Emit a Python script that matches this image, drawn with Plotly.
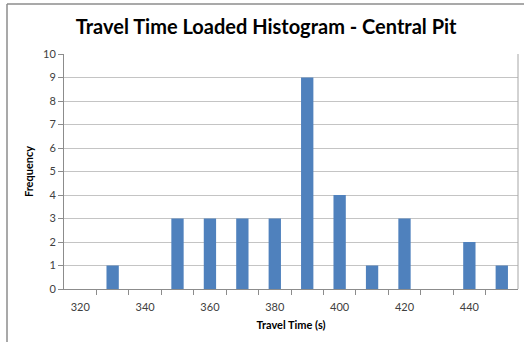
import plotly.graph_objects as go

# Histogram bins (travel time, seconds) and counts per bin
travel_time = [320, 330, 340, 350, 360, 370, 380, 390, 400, 410, 420, 430, 440, 450]
frequency = [0, 1, 0, 3, 3, 3, 3, 9, 4, 1, 3, 0, 2, 1]
x_labels = [320, 340, 360, 380, 400, 420, 440]
y_ticks = list(range(0, 11))

W, H = 524, 342
L, R, T, B = 64, 6, 54, 53
pw, ph = W - L - R, H - T - B


def px_x(p):
    return (p - L) / pw


def px_y(p):
    return (H - B - p) / ph


fig = go.Figure(
    go.Bar(
        x=travel_time,
        y=frequency,
        width=3.8,
        marker=dict(color="#4f81bd", line=dict(width=0)),
    )
)

font = "Lato, 'Open Sans', sans-serif"

fig.update_layout(
    width=W,
    height=H,
    margin=dict(l=L, r=R, t=T, b=B),
    paper_bgcolor="white",
    plot_bgcolor="white",
    showlegend=False,
    title=dict(
        text="<b>Travel Time Loaded Histogram - Central Pit</b>",
        x=0.508,
        xanchor="center",
        y=1 - 27 / H,
        yanchor="middle",
        font=dict(family=font, size=20, color="#000000"),
    ),
    xaxis=dict(
        range=[315, 455],
        tickmode="array",
        tickvals=x_labels,
        ticktext=[str(v) for v in x_labels],
        ticks="",
        ticklabelstandoff=8,
        showgrid=False,
        zeroline=False,
        showline=True,
        linecolor="#8c8c8c",
        linewidth=1,
        tickfont=dict(family=font, size=11, color="#404040"),
        minor=dict(
            tickmode="array",
            tickvals=[325 + 10 * i for i in range(13)],
            ticks="outside",
            ticklen=5,
            tickcolor="#8c8c8c",
            showgrid=False,
        ),
        title=dict(
            text="<b>Travel Time (s)</b>",
            font=dict(family=font, size=11, color="#000000"),
            standoff=9,
        ),
    ),
    yaxis=dict(
        range=[0, 10],
        tickmode="array",
        tickvals=y_ticks,
        ticks="outside",
        ticklen=5,
        tickcolor="#8c8c8c",
        showgrid=True,
        gridcolor="#c4c4c4",
        gridwidth=1,
        zeroline=False,
        showline=True,
        linecolor="#8c8c8c",
        linewidth=1,
        tickfont=dict(family=font, size=11, color="#404040"),
        title=dict(
            text="<b>Frequency</b>",
            font=dict(family=font, size=11, color="#000000"),
            standoff=7,
        ),
    ),
    shapes=[
        # right edge of the plot area
        dict(type="line", xref="x domain", yref="y domain", x0=1, x1=1, y0=0, y1=1,
             line=dict(color="#a6a6a6", width=1)),
        # chart frame (left and top)
        dict(type="line", xref="paper", yref="paper", x0=px_x(7), x1=px_x(7),
             y0=px_y(4), y1=px_y(H + 2), line=dict(color="#8c8c8c", width=1.5)),
        dict(type="line", xref="paper", yref="paper", x0=px_x(7), x1=px_x(W + 2),
             y0=px_y(4), y1=px_y(4), line=dict(color="#8c8c8c", width=1.5)),
    ],
)

fig.write_html("out.html")
